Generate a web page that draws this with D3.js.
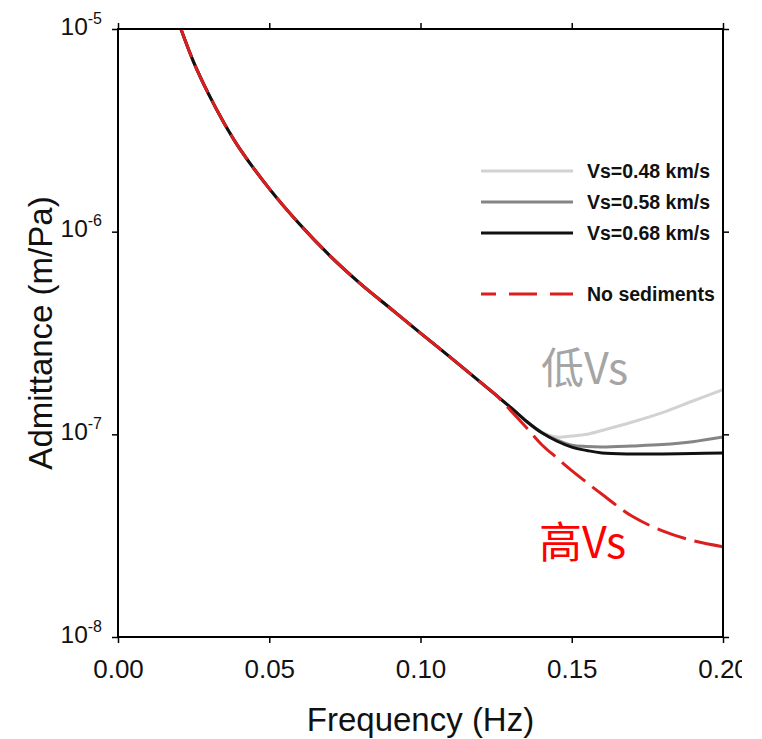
<!DOCTYPE html>
<html>
<head>
<meta charset="utf-8">
<script src="https://cdn.jsdelivr.net/npm/d3@7"></script>
<style>
  html, body { margin: 0; padding: 0; background: #fff; }
  svg { display: block; overflow: hidden; }
</style>
</head>
<body>
<svg id="chart" width="742" height="739"></svg>
<script>
// ---------- data ----------
const frequency = [0.0208, 0.025, 0.03, 0.035, 0.04, 0.05, 0.06, 0.07, 0.08, 0.09, 0.10, 0.11, 0.12, 0.125,
                   0.13, 0.135, 0.14, 0.145, 0.15, 0.155, 0.16, 0.17, 0.18, 0.19, 0.20];
const vs048 = [1.00e-5, 6.87e-6, 4.76e-6, 3.45e-6, 2.60e-6, 1.63e-6, 1.09e-6, 7.62e-7, 5.56e-7, 4.19e-7, 3.16e-7, 2.39e-7, 1.80e-7, 1.56e-7,
               1.35e-7, 1.16e-7, 1.03e-7, 9.70e-8, 9.82e-8, 1.00e-7, 1.045e-7, 1.15e-7, 1.28e-7, 1.46e-7, 1.66e-7];
const vs058 = [1.00e-5, 6.87e-6, 4.76e-6, 3.45e-6, 2.60e-6, 1.63e-6, 1.09e-6, 7.62e-7, 5.56e-7, 4.19e-7, 3.16e-7, 2.39e-7, 1.80e-7, 1.56e-7,
               1.35e-7, 1.16e-7, 1.02e-7, 9.38e-8, 8.83e-8, 8.71e-8, 8.67e-8, 8.77e-8, 8.91e-8, 9.20e-8, 9.70e-8];
const vs068 = [1.00e-5, 6.87e-6, 4.76e-6, 3.45e-6, 2.60e-6, 1.63e-6, 1.09e-6, 7.62e-7, 5.56e-7, 4.19e-7, 3.16e-7, 2.39e-7, 1.80e-7, 1.56e-7,
               1.35e-7, 1.16e-7, 1.02e-7, 9.27e-8, 8.65e-8, 8.32e-8, 8.09e-8, 8.00e-8, 8.00e-8, 8.05e-8, 8.09e-8];
const noSediments = [1.00e-5, 6.87e-6, 4.76e-6, 3.45e-6, 2.60e-6, 1.63e-6, 1.09e-6, 7.62e-7, 5.56e-7, 4.19e-7, 3.16e-7, 2.39e-7, 1.80e-7, 1.56e-7,
                     1.30e-7, 1.08e-7, 8.91e-8, 7.67e-8, 6.62e-8, 5.78e-8, 5.06e-8, 3.94e-8, 3.34e-8, 2.99e-8, 2.79e-8];

const xTicks = [0.00, 0.05, 0.10, 0.15, 0.20];
const yTicks = [1e-5, 1e-6, 1e-7, 1e-8];
const yTickExponents = ["-5", "-6", "-7", "-8"];
const seriesNames = ["Vs=0.48 km/s", "Vs=0.58 km/s", "Vs=0.68 km/s", "No sediments"];
const xTitle = "Frequency (Hz)";
const yTitle = "Admittance (m/Pa)";
const noteLow = "低Vs";
const noteHigh = "高Vs";

// ---------- layout ----------
const L = 118, R = 723, T = 29, B = 637;
const svg = d3.select("#chart");
const x = d3.scaleLinear().domain([0, 0.2]).range([L, R]);
const y = d3.scaleLog().domain([1e-8, 1e-5]).range([B, T]);
const font = "'Liberation Sans', Arial, Helvetica, sans-serif";

svg.append("defs").append("clipPath").attr("id", "plotclip")
  .append("rect").attr("x", L).attr("y", T).attr("width", R - L).attr("height", B - T);

// ---------- curves ----------
const line = d3.line()
  .x(d => x(d[0])).y(d => y(d[1]))
  .curve(d3.curveCatmullRom.alpha(0.5));

const series = [
  { vals: vs048, color: "#d2d2d2", width: 3, dash: null },
  { vals: vs058, color: "#858585", width: 3, dash: null },
  { vals: vs068, color: "#111111", width: 3, dash: null },
  { vals: noSediments, color: "#dc1e1e", width: 3, dash: "30,9" }
];
const g = svg.append("g").attr("clip-path", "url(#plotclip)");
series.forEach(s => {
  g.append("path")
    .datum(frequency.map((f, i) => [f, s.vals[i]]))
    .attr("d", line)
    .attr("fill", "none")
    .attr("stroke", s.color)
    .attr("stroke-width", s.width)
    .attr("stroke-dasharray", s.dash);
});

// ---------- axes ----------
const tickLen = 6;
svg.append("g").attr("transform", `translate(0,${B})`)
  .call(d3.axisBottom(x).tickValues(xTicks).tickSize(tickLen).tickSizeOuter(0).tickFormat(d3.format(".2f")))
  .call(a => a.select(".domain").remove())
  .call(a => a.selectAll("line").attr("stroke", "#000").attr("stroke-width", 1.5))
  .call(a => a.selectAll("text").attr("font-family", font).attr("font-size", 26).attr("fill", "#111")
    .attr("y", tickLen).attr("dy", 35));

svg.append("g").attr("transform", `translate(0,${T})`)
  .call(d3.axisTop(x).tickValues(xTicks).tickSize(tickLen).tickSizeOuter(0).tickFormat(""))
  .call(a => a.select(".domain").remove())
  .call(a => a.selectAll("line").attr("stroke", "#000").attr("stroke-width", 1.5));

const yl = svg.append("g").attr("transform", `translate(${L},0)`)
  .call(d3.axisLeft(y).tickValues(yTicks).tickSize(tickLen).tickSizeOuter(0).tickFormat(""))
  .call(a => a.select(".domain").remove())
  .call(a => a.selectAll("line").attr("stroke", "#000").attr("stroke-width", 1.5));

yl.selectAll(".tick").each(function(d, i) {
  const t = d3.select(this).select("text")
    .attr("x", -16).attr("dy", null).attr("y", 5)
    .attr("text-anchor", "end")
    .attr("font-family", font).attr("fill", "#111");
  t.text(null);
  t.append("tspan").attr("font-size", 24.5).text("10");
  t.append("tspan").attr("font-size", 16).attr("dy", -11).text(yTickExponents[i]);
});

svg.append("g").attr("transform", `translate(${R},0)`)
  .call(d3.axisRight(y).tickValues(yTicks).tickSize(tickLen).tickSizeOuter(0).tickFormat(""))
  .call(a => a.select(".domain").remove())
  .call(a => a.selectAll("line").attr("stroke", "#000").attr("stroke-width", 1.5));

// frame
svg.append("rect").attr("x", L).attr("y", T).attr("width", R - L).attr("height", B - T)
  .attr("fill", "none").attr("stroke", "#000").attr("stroke-width", 2);

// titles
svg.append("text").attr("x", (L + R) / 2).attr("y", 731).attr("text-anchor", "middle")
  .attr("font-family", font).attr("font-size", 33).attr("fill", "#111").text(xTitle);
svg.append("text").attr("transform", `translate(52,${(T + B) / 2}) rotate(-90)`).attr("text-anchor", "middle")
  .attr("font-family", font).attr("font-size", 33).attr("fill", "#111").text(yTitle);

// ---------- legend ----------
const legendY = [171, 202, 233, 294];
const leg = svg.append("g");
series.forEach((s, i) => {
  leg.append("line").attr("x1", 481).attr("x2", 573).attr("y1", legendY[i]).attr("y2", legendY[i])
    .attr("stroke", s.color).attr("stroke-width", 3)
    .attr("stroke-dasharray", s.dash ? "28,13" : null).attr("stroke-dashoffset", s.dash ? 13 : null);
  leg.append("text").attr("x", 587).attr("y", legendY[i]).attr("dy", "0.36em")
    .attr("font-family", font).attr("font-weight", "bold").attr("font-size", 19.5).attr("fill", "#111")
    .text(seriesNames[i]);
});

// ---------- annotations ----------
const cjk = "'Noto Sans CJK SC', 'Noto Sans', sans-serif";
svg.append("text").attr("x", 541).attr("y", 384).attr("font-family", cjk).attr("font-size", 43)
  .attr("fill", "#a5a5a5").text(noteLow);
svg.append("text").attr("x", 539).attr("y", 558).attr("font-family", cjk).attr("font-size", 43)
  .attr("fill", "#ff0000").text(noteHigh);
</script>
</body>
</html>
